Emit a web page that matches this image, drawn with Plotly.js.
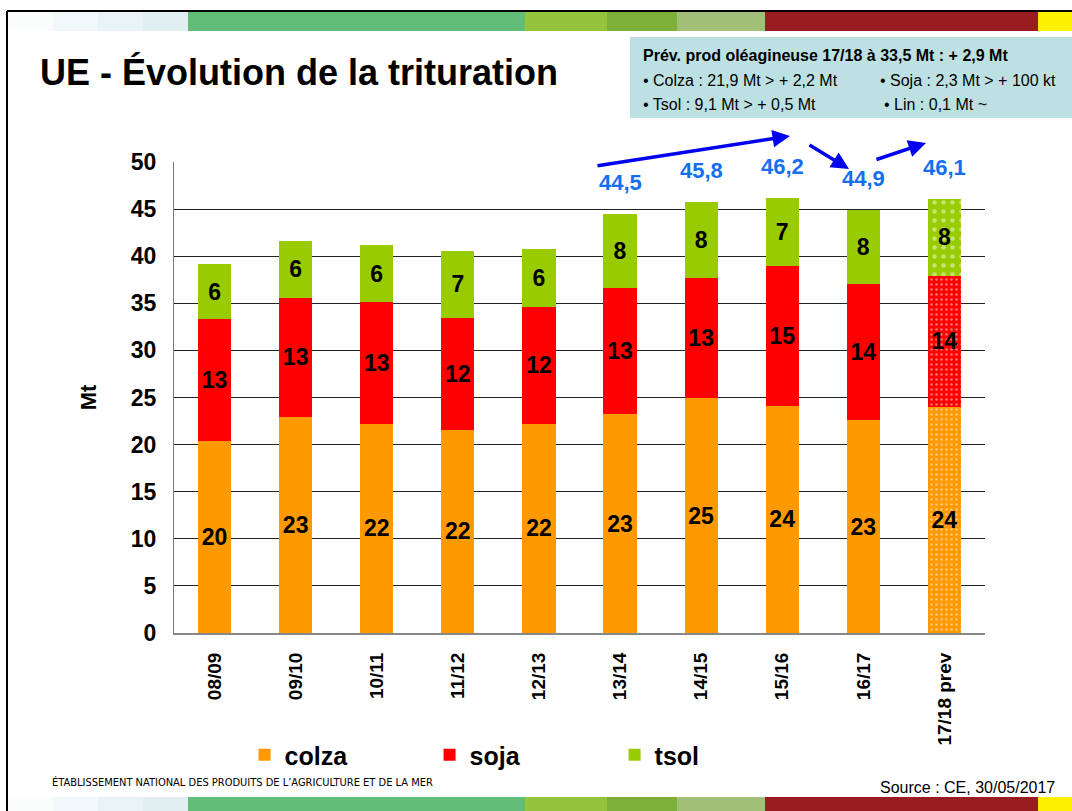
<!DOCTYPE html>
<html>
<head>
<meta charset="utf-8">
<script src="https://cdn.plot.ly/plotly-3.0.1.min.js"></script>
<style>html,body{margin:0;padding:0;background:#fff;}#chart{width:1072px;height:811px;}</style>
</head>
<body>
<div id="chart"></div>
<script>
// ---- data ----
const campaigns = ['08/09','09/10','10/11','11/12','12/13','13/14','14/15','15/16','16/17','17/18 prev'];
const colza = [20.4, 22.9, 22.2, 21.6, 22.2, 23.2, 24.9, 24.1, 22.6, 24.0];
const soja  = [12.9, 12.7, 12.9, 11.8, 12.4, 13.4, 12.8, 14.9, 14.4, 13.9];
const tsol  = [5.9, 6.0, 6.1, 7.2, 6.2, 7.9, 8.1, 7.2, 7.9, 8.2];
const forecastFlags = [false,false,false,false,false,false,false,false,false,true];
const totalsShownFrom = 5; // totals labelled for 13/14 onwards

const boxTitle = 'Prév. prod oléagineuse 17/18 à 33,5 Mt : + 2,9 Mt';
const boxLines = ['• Colza : 21,9 Mt > + 2,2 Mt', '• Soja : 2,3 Mt > + 100 kt', '• Tsol : 9,1 Mt > + 0,5 Mt', '• Lin : 0,1 Mt ~'];
const footerLeft = 'ÉTABLISSEMENT NATIONAL DES PRODUITS DE L\u2019AGRICULTURE ET DE LA MER';
const footerRight = 'Source : CE, 30/05/2017';

// ---- geometry helpers (pixel -> plot-fraction) ----
const W = 1072, H = 811;
const M = {l:174, r:87, t:162, b:178};
const PW = W - M.l - M.r, PH = H - M.t - M.b;
const X = px => (px - M.l) / PW;
const Y = py => (H - M.b - py) / PH;

const FONT = 'Liberation Sans, Arial, Helvetica, sans-serif';
const NARROW = 'Liberation Sans Narrow, Arial Narrow, DejaVu Sans Condensed, Liberation Sans, sans-serif';

function barTrace(name, vals, color, dotSize) {
  return {
    type: 'bar', name: name, x: campaigns, y: vals,
    marker: {
      color: color, line: {width: 0},
      pattern: {
        shape: forecastFlags.map(f => f ? '.' : ''),
        bgcolor: color,
        fgcolor: 'rgba(255,255,255,0.9)', size: dotSize, solidity: 0.2, fillmode: 'overlay'
      }
    },
    texttemplate: '<b>%{y:.0f}</b>',
    textposition: 'inside', insidetextanchor: 'middle', textangle: 0,
    textfont: {family: FONT, size: 23, color: '#000'},
    hoverinfo: 'x+y+name'
  };
}

const data = [
  barTrace('colza', colza, '#FF9900', 5),
  barTrace('soja', soja, '#FF0000', 5),
  barTrace('tsol', tsol, '#99CC00', 9)
];

// ---- annotations ----
const annotations = [];
for (let i = totalsShownFrom; i < campaigns.length; i++) {
  const tot = colza[i] + soja[i] + tsol[i];
  annotations.push({
    x: campaigns[i], y: tot, xref: 'x', yref: 'y', yanchor: 'bottom', yshift: 17,
    text: '<b>' + tot.toFixed(1).replace('.', ',') + '</b>', showarrow: false,
    font: {family: FONT, size: 22, color: '#1470F0'}
  });
}
// trend arrows
function arrow(hx, hy, tx, ty) {
  annotations.push({
    xref: 'paper', yref: 'paper', x: X(hx), y: Y(hy), ax: tx - hx, ay: ty - hy,
    text: '', showarrow: true, arrowhead: 2, arrowsize: 1, arrowwidth: 3.5,
    arrowcolor: '#0000F0', standoff: 0, startstandoff: 0
  });
}
arrow(790, 136, 596, 166);
arrow(849, 169, 808, 144);
arrow(926, 143, 875, 160);

// info box text
function boxText(px, py, txt) {
  annotations.push({xref:'paper', yref:'paper', x: X(px), y: Y(py), xanchor:'left', yanchor:'middle', showarrow:false,
    text: txt, font:{family:FONT, size:16, color:'#000'}});
}
boxText(641, 55, '<b>' + boxTitle + '</b>');
boxText(641, 80, boxLines[0]);
boxText(878, 80, boxLines[1]);
boxText(641, 104, boxLines[2]);
boxText(882, 104, boxLines[3]);
// footer
annotations.push({xref:'paper', yref:'paper', x: X(50), y: Y(782), xanchor:'left', yanchor:'middle', showarrow:false,
  text:footerLeft, font:{family:NARROW, size:11, color:'#000'}});
annotations.push({xref:'paper', yref:'paper', x: X(1057), y: Y(787), xanchor:'right', yanchor:'middle', showarrow:false,
  text:footerRight, font:{family:FONT, size:16, color:'#000'}});

// ---- decorative shapes ----
const shapes = [];
function rect(x0, y0, x1, y1, color, layer) {
  shapes.push({type:'rect', xref:'paper', yref:'paper', x0:X(x0), x1:X(x1), y0:Y(y0), y1:Y(y1),
    fillcolor: color, line:{width:0}, layer: layer || 'below'});
}
function stripe(y0, y1) {
  const light = ['#fbfdfd','#f1f8f9','#e9f3f5','#e1eff2'];
  for (let k = 0; k < 4; k++) rect(8 + k*45, y0, 8 + (k+1)*45 + 1, y1, light[k]);
  rect(188, y0, 525, y1, '#62bd79');
  rect(525, y0, 607, y1, '#93c43b');
  rect(607, y0, 677, y1, '#7cb038');
  rect(677, y0, 765, y1, '#a2bf78');
  rect(765, y0, 1038, y1, '#981c20');
  rect(1038, y0, 1072, y1, '#fff200');
}
stripe(12, 31);
stripe(797, 811);
// slide frame lines
shapes.push({type:'line', xref:'paper', yref:'paper', x0:X(7), x1:X(1072), y0:Y(11), y1:Y(11), line:{color:'#000', width:2}});
shapes.push({type:'line', xref:'paper', yref:'paper', x0:X(7), x1:X(7), y0:Y(11), y1:Y(811), line:{color:'#000', width:2}});
// info box
rect(630, 37, 1072, 118, '#bde0e3');
// hide parts of the top gridline behind the total labels
rect(571, 159, 831, 165, '#ffffff', 'above');
rect(893, 159, 987, 165, '#ffffff', 'above');

const layout = {
  width: W, height: H,
  margin: M,
  paper_bgcolor: '#fff', plot_bgcolor: '#fff',
  barmode: 'stack', bargap: 0.59,
  font: {family: FONT, color: '#000'},
  title: {text: '<b>UE - Évolution de la trituration</b>', xref: 'container', yref: 'container',
    x: 40 / W, xanchor: 'left', y: 1 - 72 / H, yanchor: 'middle',
    font: {family: FONT, size: 36, color: '#000'}},
  xaxis: {type: 'category', tickangle: -90, ticks: '', showline: true, linecolor: '#888', linewidth: 2,
    tickfont: {family: FONT, size: 19, color: '#000', weight: 'bold'}, ticklabelstandoff: 10,
    showgrid: false, zeroline: false, fixedrange: true},
  yaxis: {range: [0, 50], dtick: 5, ticks: '', showline: true, linecolor: '#777', linewidth: 1,
    showgrid: true, gridcolor: '#222', gridwidth: 1, zeroline: false,
    tickfont: {family: FONT, size: 23, color: '#000', weight: 'bold'}, ticklabelstandoff: 12,
    title: {text: '<b>Mt</b>', font: {family: FONT, size: 22, color: '#000'}, standoff: 28},
    fixedrange: true},
  legend: {orientation: 'h', x: 0.087, xanchor: 'left', y: Y(755), yanchor: 'middle',
    font: {family: FONT, size: 25, color: '#000', weight: 'bold'},
    entrywidth: 140, entrywidthmode: 'pixels', traceorder: 'normal', bgcolor: 'rgba(0,0,0,0)'},
  showlegend: true,
  annotations: annotations,
  shapes: shapes
};

Plotly.newPlot('chart', data, layout, {displayModeBar: false, staticPlot: true});
</script>
</body>
</html>
